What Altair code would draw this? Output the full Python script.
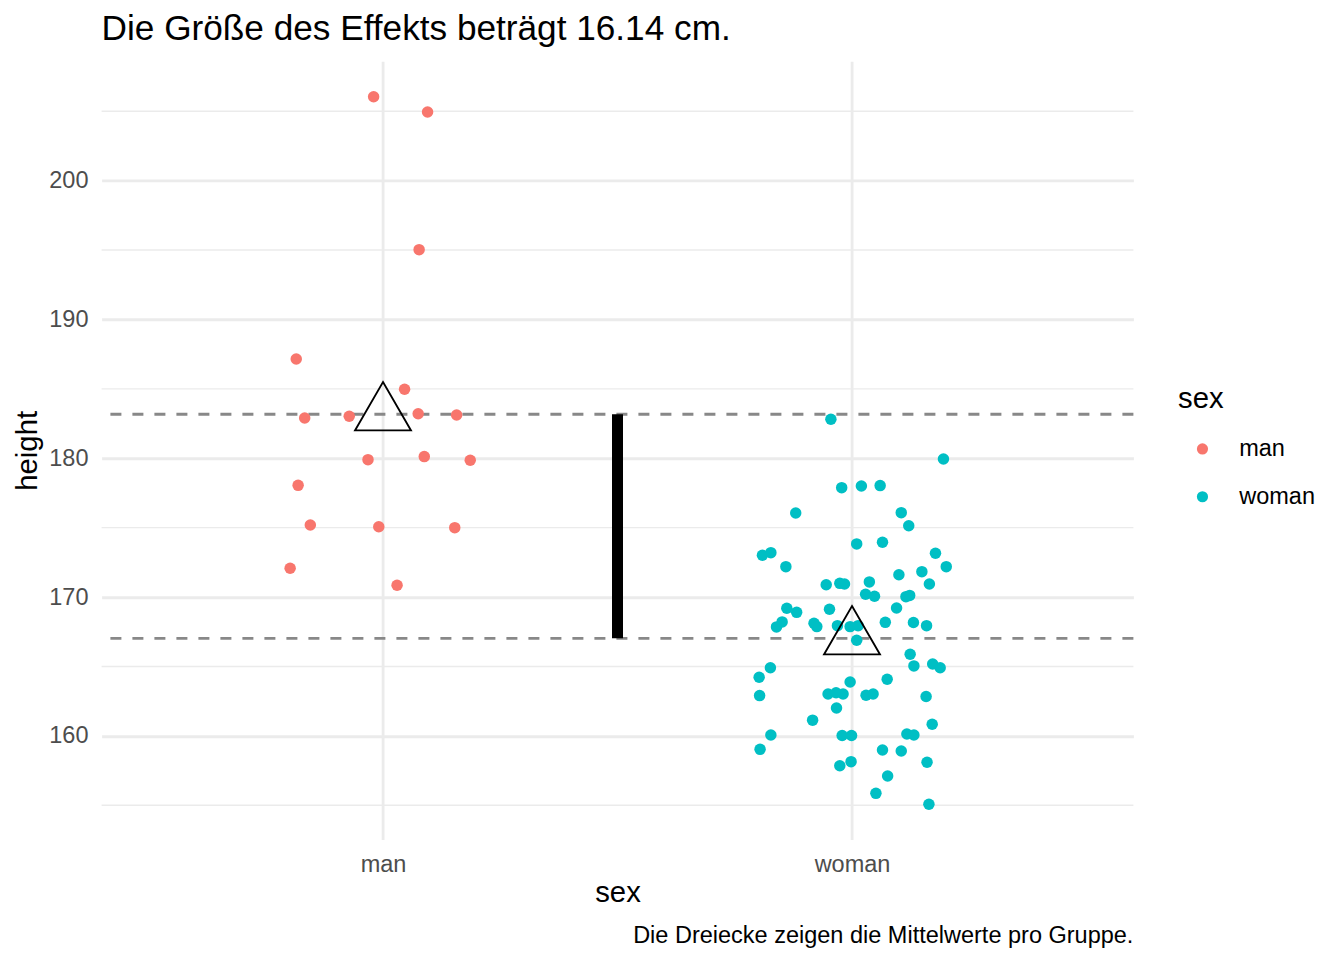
import altair as alt
import pandas as pd

# ---------------- data ----------------
sexes = ["man", "woman"]
sex_colors = ["#F8766D", "#00BFC4"]

man_jitter = [-0.020, 0.095, 0.077, -0.185, 0.046, -0.167, -0.072, 0.075, 0.157,
              -0.032, 0.088, 0.186, -0.181, -0.155, -0.009, 0.153, -0.198, 0.030]
man_height = [206.05, 204.95, 195.03, 187.15, 184.97, 182.90, 183.03, 183.21, 183.12,
              179.90, 180.12, 179.86, 178.05, 175.19, 175.07, 175.00, 172.08, 170.85]

woman_jitter = [-0.045, 0.195, -0.022, 0.020, 0.060, -0.120, 0.105, 0.121, 0.010, 0.065,
                -0.191, -0.173, 0.178, -0.141, 0.149, 0.201, 0.100, 0.165, -0.055, -0.026,
                -0.016, 0.037, 0.029, 0.048, 0.115, 0.123, -0.139, -0.118, -0.048, 0.095,
                -0.161, -0.149, -0.081, -0.075, -0.031, -0.004, 0.013, 0.071, 0.131, 0.159,
                0.010, 0.124, 0.132, 0.172, 0.188, -0.174, -0.198, -0.004, 0.075, -0.197,
                -0.051, -0.034, -0.019, 0.030, 0.045, 0.158, -0.033, -0.084, 0.171, -0.173,
                -0.021, -0.001, 0.117, 0.132, -0.196, 0.065, 0.105, 0.160, -0.026, -0.002,
                0.076, 0.051, 0.164]
woman_height = [182.81, 179.95, 177.88, 178.00, 178.03, 176.06, 176.08, 175.14, 173.83, 173.95,
                173.01, 173.20, 173.16, 172.19, 171.83, 172.19, 171.61, 170.94, 170.89, 170.99,
                170.94, 171.09, 170.20, 170.06, 170.03, 170.12, 169.19, 168.90, 169.12, 169.21,
                167.85, 168.21, 168.11, 167.87, 167.94, 167.87, 167.94, 168.18, 168.17, 167.94,
                166.89, 165.88, 165.04, 165.18, 164.91, 164.91, 164.22, 163.88, 164.08, 162.90,
                163.02, 163.11, 163.02, 162.93, 163.02, 162.84, 162.01, 161.13, 160.84, 160.06,
                160.03, 160.03, 160.13, 160.06, 159.03, 158.98, 158.91, 158.10, 157.85, 158.14,
                157.11, 155.86, 155.07]

group_means = [183.17, 167.03]
y_major = [160, 170, 180, 190, 200]
y_minor = [155, 165, 175, 185, 195, 205]

title_text = "Die Größe des Effekts beträgt 16.14 cm."
caption_text = "Die Dreiecke zeigen die Mittelwerte pro Gruppe."

# ---------------- tables ----------------
rows = []
for j, h in zip(man_jitter, man_height):
    rows.append({"sex": sexes[0], "xpos": 1 + j, "height": h})
for j, h in zip(woman_jitter, woman_height):
    rows.append({"sex": sexes[1], "xpos": 2 + j, "height": h})
points_df = pd.DataFrame(rows)
means_df = pd.DataFrame({"sex": sexes, "xpos": [1, 2], "height": group_means})
seg_df = pd.DataFrame({"xpos": [1.5], "lo": [group_means[1]], "hi": [group_means[0]]})
minor_df = pd.DataFrame({"height": y_minor})
cap_df = pd.DataFrame({"caption": [caption_text]})

W, H = 1031.8, 778.1
FONT = "Liberation Sans"

xscale = alt.Scale(domain=[0.4, 2.6], nice=False, zero=False)
yscale = alt.Scale(domain=[152.54, 208.60], nice=False, zero=False)

label_expr = f"datum.value == 1 ? '{sexes[0]}' : '{sexes[1]}'"
xaxis = alt.Axis(values=[1, 2], labelExpr=label_expr, title="sex", grid=True,
                 gridColor="#EBEBEB", gridWidth=2.85, domain=False, ticks=False,
                 tickSize=0, labelPadding=13, labelFontSize=23.5, labelColor="#4D4D4D",
                 labelFont=FONT, titleFont=FONT, titleFontSize=29.3, titleColor="black",
                 titleFontWeight="normal", titlePadding=3)
yaxis = alt.Axis(values=y_major, title="height", grid=True, gridColor="#EBEBEB",
                 gridWidth=2.85, domain=False, ticks=False, tickSize=0, labelPadding=13.6,
                 labelFontSize=23.5, labelColor="#4D4D4D", labelFont=FONT, titleFont=FONT,
                 titleFontSize=29.3, titleColor="black", titleFontWeight="normal",
                 titlePadding=6)

minor = alt.Chart(minor_df).mark_rule(color="#EBEBEB", strokeWidth=1.42).encode(
    y=alt.Y("height:Q", scale=yscale, axis=yaxis)
)

dash = alt.Chart(means_df).mark_rule(color="#888888", strokeWidth=2.8,
                                     strokeDash=[11, 11]).encode(
    y=alt.Y("height:Q", scale=yscale, axis=yaxis)
)

pts = alt.Chart(points_df).mark_circle(size=132, opacity=1).encode(
    x=alt.X("xpos:Q", scale=xscale, axis=xaxis),
    y=alt.Y("height:Q", scale=yscale, axis=yaxis),
    color=alt.Color("sex:N", scale=alt.Scale(domain=sexes, range=sex_colors),
                    legend=alt.Legend(orient="none", legendX=1076.4, legendY=323.9,
                                      title="sex", titleFont=FONT, titleFontSize=29.3,
                                      titleColor="black", titleFontWeight="normal",
                                      titlePadding=22.7, labelFont=FONT,
                                      labelFontSize=23.5, labelColor="black",
                                      symbolType="circle", symbolSize=125,
                                      symbolStrokeWidth=0, symbolOffset=12.7,
                                      labelOffset=25, rowPadding=22.8, padding=0)),
)

seg = alt.Chart(seg_df).mark_rule(color="black", strokeWidth=11, strokeCap="butt").encode(
    x=alt.X("xpos:Q", scale=xscale, axis=xaxis),
    y=alt.Y("lo:Q", scale=yscale, axis=yaxis),
    y2="hi:Q",
)

tri_path = "M0,-1.1547L1,0.57735L-1,0.57735Z"
tri = alt.Chart(means_df).mark_point(shape=tri_path, size=3136, filled=False,
                                     color="black", strokeWidth=1.8, opacity=1).encode(
    x=alt.X("xpos:Q", scale=xscale, axis=xaxis),
    y=alt.Y("height:Q", scale=yscale, axis=yaxis),
)

cap = alt.Chart(cap_df).mark_text(align="right", baseline="alphabetic", font=FONT,
                                  fontSize=23.5, color="black").encode(
    x=alt.value(W), y=alt.value(881.5), text="caption:N"
)

chart = alt.layer(minor, dash, pts, seg, tri, cap).properties(
    width=W, height=H,
    title=alt.TitleParams(title_text, anchor="start", frame="group", font=FONT,
                          fontSize=35.2, fontWeight="normal", color="black",
                          baseline="alphabetic", offset=14, dy=28),
    autosize=alt.AutoSizeParams(type="none"),
    padding={"left": 93.6, "top": 53.3, "right": 202.6, "bottom": 112.6},
    background="white",
).configure_view(stroke="transparent")

chart.save("out.html", embed_options={"renderer": "svg", "actions": False})
